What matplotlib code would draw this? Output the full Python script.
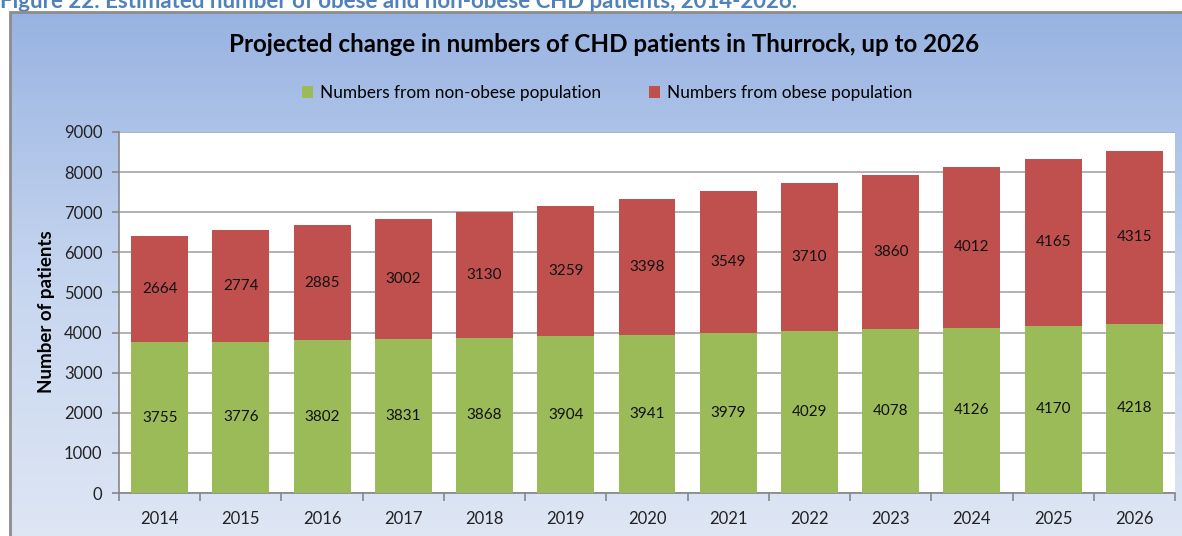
import numpy as np
import matplotlib
matplotlib.use("Agg")
import matplotlib.pyplot as plt
from matplotlib.patches import Rectangle, Patch
from matplotlib.colors import LinearSegmentedColormap

plt.rcParams['font.family'] = ['Lato', 'DejaVu Sans']

years = ['2014', '2015', '2016', '2017', '2018', '2019', '2020',
         '2021', '2022', '2023', '2024', '2025', '2026']
non_obese = [3755, 3776, 3802, 3831, 3868, 3904, 3941, 3979, 4029, 4078, 4126, 4170, 4218]
obese = [2664, 2774, 2885, 3002, 3130, 3259, 3398, 3549, 3710, 3860, 4012, 4165, 4315]
series_names = ['Numbers from non-obese population', 'Numbers from obese population']
title = 'Projected change in numbers of CHD patients in Thurrock, up to 2026'
caption = 'Figure 22: Estimated number of obese and non-obese CHD patients, 2014-2026.'
ylabel = 'Number of patients'

GREEN = '#9BBB59'
RED = '#C0504D'

W, H = 1182, 536
fig = plt.figure(figsize=(W / 100, H / 100), dpi=100)

# chart background (gradient)
bx0, by_top = 10, 12
bg = fig.add_axes([bx0 / W, 0, 1 - bx0 / W, 1 - by_top / H])
bg.set_axis_off()
cmap = LinearSegmentedColormap.from_list('bg', ['#98B3E2', '#C6D5EF', '#DEE6F4'])
grad = np.linspace(0, 1, 256).reshape(-1, 1)
bg.imshow(grad, aspect='auto', cmap=cmap, extent=[0, 1, 0, 1], origin='upper')
bg.set_xlim(0, 1)
bg.set_ylim(0, 1)
fig.patches.append(Rectangle((bx0 / W, -0.01), 1.0, 1 - by_top / H + 0.01,
                             transform=fig.transFigure, fill=False,
                             edgecolor='#8C8C8C', linewidth=2, zorder=5))

# caption (cut at top, as in the reference)
fig.text(0.0, 1 - 8 / H, caption, color='#4F81BD', fontsize=16,
         fontweight='bold', ha='left', va='baseline')

# plot area
L, R, T, B = 119, 1175, 132, 493
ax = fig.add_axes([L / W, 1 - B / H, (R - L) / W, (B - T) / H])
ax.set_facecolor('white')
x = np.arange(len(years))
width = 0.70
b1 = ax.bar(x, non_obese, width, color=GREEN, zorder=3, label=series_names[0])
b2 = ax.bar(x, obese, width, bottom=non_obese, color=RED, zorder=3, label=series_names[1])
ax.bar_label(b1, labels=[str(v) for v in non_obese], label_type='center', fontsize=11, color='#111111')
ax.bar_label(b2, labels=[str(v) for v in obese], label_type='center', fontsize=11, color='#111111')

ax.set_xlim(-0.5, len(years) - 0.5)
ax.set_ylim(0, 9000)
ax.set_yticks(np.arange(0, 9001, 1000))
ax.yaxis.grid(True, color='#A6A6A6', linewidth=1.2, zorder=0)
ax.set_axisbelow(True)
for s in ['top', 'right']:
    ax.spines[s].set_visible(False)
for s in ['left', 'bottom']:
    ax.spines[s].set_color('#868686')
    ax.spines[s].set_linewidth(1.2)
ax.tick_params(axis='y', direction='out', length=5, width=1.2, color='#868686',
               labelsize=12, pad=7, labelcolor='#222222')
ax.set_xticks(x)
ax.set_xticklabels(years)
ax.set_xticks(np.arange(-0.5, len(years), 1), minor=True)
ax.tick_params(axis='x', which='major', length=0, labelsize=12, pad=13, labelcolor='#222222')
ax.tick_params(axis='x', which='minor', direction='out', length=6, width=1.2, color='#868686')

fig.text(47 / W, 1 - 312 / H, ylabel, fontsize=13.5, fontweight='bold',
         rotation=90, ha='center', va='center', color='black')

fig.text(604 / W, 1 - 45 / H, title, fontsize=17.4, fontweight='bold',
         ha='center', va='center', color='black')

handles = [Patch(facecolor=GREEN), Patch(facecolor=RED)]
fig.legend(handles, series_names, loc='center', bbox_to_anchor=(607 / W, 1 - 93 / H),
           ncol=2, frameon=False, fontsize=12.4, handlelength=0.65, handleheight=0.65,
           handletextpad=0.4, columnspacing=2.8)

fig.savefig('out.png', dpi=100)
